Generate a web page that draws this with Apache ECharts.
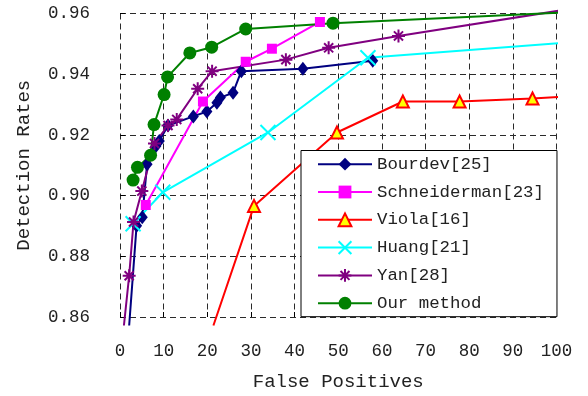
<!DOCTYPE html>
<html>
<head>
<meta charset="utf-8">
<script src="https://cdn.jsdelivr.net/npm/echarts@6/dist/echarts.min.js"></script>
<style>
  html, body { margin: 0; background: #fff; }
  #chart { width: 588px; height: 396px; }
</style>
</head>
<body>
<div id="chart"></div>
<script>
  // values; points listed in *Bare run past the axes and carry no marker
  const bourdevFP = [2.1, 3.8, 5.1, 6.2, 8.2, 9.0, 11.0, 16.8, 19.9, 22.2, 23.0, 25.9, 27.8, 41.9, 57.9];
  const bourdevDR = [0.8572, 0.8901, 0.8929, 0.9103, 0.9163, 0.9180, 0.9231, 0.9261, 0.9277, 0.9306, 0.9323, 0.9339, 0.9410, 0.9418, 0.9444];
  const bourdevBare = [0];

  const schneidermanFP = [5.9, 19.0, 28.8, 34.8, 45.8];
  const schneidermanDR = [0.8969, 0.9310, 0.9441, 0.9484, 0.9572];
  const schneidermanBare = [];

  const violaFP = [21.4, 30.7, 49.7, 64.8, 77.8, 94.5, 101.4];
  const violaDR = [0.8572, 0.8966, 0.9208, 0.9310, 0.9310, 0.9320, 0.9326];
  const violaBare = [0, 6];

  const huangFP = [3.0, 9.8, 33.9, 56.8, 101.4];
  const huangDR = [0.8907, 0.9011, 0.9208, 0.9454, 0.9503];
  const huangBare = [4];

  const yanFP = [0.9, 2.1, 3.1, 5.0, 7.9, 11.0, 13.0, 17.8, 21.1, 38.0, 47.8, 63.8, 101.4];
  const yanDR = [0.8572, 0.8736, 0.8913, 0.9015, 0.9172, 0.9231, 0.9251, 0.9352, 0.9410, 0.9448, 0.9487, 0.9526, 0.9611];
  const yanBare = [0, 12];

  const ourFP = [3.0, 4.0, 7.0, 7.8, 10.1, 10.9, 16.0, 21.0, 28.8, 48.8, 101.4];
  const ourDR = [0.9051, 0.9093, 0.9133, 0.9234, 0.9333, 0.9391, 0.9470, 0.9489, 0.9549, 0.9568, 0.9603];
  const ourBare = [10];

  const xMin = 0, xMax = 100, xStep = 10;
  const yMin = 0.86, yMax = 0.96, yStep = 0.02;

  const FONT = "Liberation Mono";
  const TEXT = "#222";
  const GRIDLINE = { show: true, lineStyle: { color: "#2a2a2a", type: [6, 4], width: 1 } };

  function points(xs, ys, bare) {
    return xs.map((x, i) => (bare.includes(i) ? { value: [x, ys[i]], symbol: "none" } : [x, ys[i]]));
  }

  function line(name, data, color, symbol, size, extra) {
    return Object.assign({
      name,
      type: "line",
      data,
      clip: false,
      symbol,
      symbolSize: size,
      lineStyle: { color, width: 2 },
      itemStyle: { color },
      emphasis: { disabled: true }
    }, extra || {});
  }

  const crossPath = "path://M0,0L10,10M10,0L0,10";
  const starPath = "path://M5,0L5,10M0,5L10,5M1.5,1.5L8.5,8.5M8.5,1.5L1.5,8.5";

  const chart = echarts.init(document.getElementById("chart"), null, { renderer: "canvas" });
  chart.setOption({
    animation: false,
    backgroundColor: "#fff",
    textStyle: { fontFamily: FONT, color: TEXT },
    grid: { left: 120, right: 31.5, top: 13.5, bottom: 77 },
    xAxis: {
      type: "value",
      min: xMin,
      max: xMax,
      interval: xStep,
      name: "False Positives",
      nameLocation: "middle",
      nameGap: 55,
      nameTextStyle: { fontFamily: FONT, fontSize: 19, color: TEXT },
      axisLine: { show: false },
      axisTick: { show: true, inside: true, length: 5, lineStyle: { color: "#000" } },
      axisLabel: { margin: 25, fontFamily: FONT, fontSize: 17.5, color: TEXT },
      splitLine: GRIDLINE
    },
    yAxis: {
      type: "value",
      min: yMin,
      max: yMax,
      interval: yStep,
      name: "Detection Rates",
      nameLocation: "middle",
      nameGap: 87,
      nameTextStyle: { fontFamily: FONT, fontSize: 19, color: TEXT },
      axisLine: { show: false },
      axisTick: { show: true, inside: true, length: 5, lineStyle: { color: "#000" } },
      axisLabel: { margin: 30, fontFamily: FONT, fontSize: 17.5, color: TEXT, formatter: (v) => v.toFixed(2) },
      splitLine: GRIDLINE
    },
    legend: {
      orient: "vertical",
      left: 301,
      top: 150.5,
      padding: [5.2, 13, 5, 16],
      itemWidth: 54,
      itemHeight: 16,
      itemGap: 10.8,
      backgroundColor: "#fff",
      borderColor: "#000",
      borderWidth: 1,
      borderRadius: 0,
      z: 10,
      textStyle: { fontFamily: FONT, fontSize: 17.4, color: TEXT }
    },
    series: [
      line("Bourdev[25]", points(bourdevFP, bourdevDR, bourdevBare), "#000080", "diamond", [11, 14]),
      line("Schneiderman[23]", points(schneidermanFP, schneidermanDR, schneidermanBare), "#ff00ff", "rect", 10),
      line("Viola[16]", points(violaFP, violaDR, violaBare), "#ff0000", "triangle", 12, {
        itemStyle: { color: "#ffff00", borderColor: "#ff0000", borderWidth: 2 }
      }),
      line("Huang[21]", points(huangFP, huangDR, huangBare), "#00ffff", crossPath, 15, {
        itemStyle: { color: "#00ffff", borderColor: "#00ffff", borderWidth: 2 }
      }),
      line("Yan[28]", points(yanFP, yanDR, yanBare), "#800080", starPath, 13, {
        itemStyle: { color: "#800080", borderColor: "#800080", borderWidth: 2 }
      }),
      line("Our method", points(ourFP, ourDR, ourBare), "#008000", "circle", 13)
    ]
  });
</script>
</body>
</html>
